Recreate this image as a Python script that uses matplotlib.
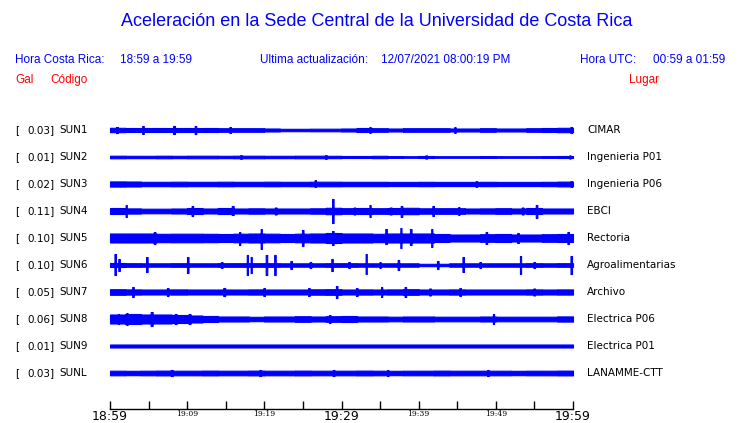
import numpy as np
import matplotlib
matplotlib.use("Agg")
import matplotlib.pyplot as plt
from matplotlib.transforms import blended_transform_factory

# ---------------- data ----------------
codes = ["SUN1", "SUN2", "SUN3", "SUN4", "SUN5", "SUN6", "SUN7", "SUN8", "SUN9", "SUNL"]
peak_gal = ["0.03", "0.01", "0.02", "0.11", "0.10", "0.10", "0.05", "0.06", "0.01", "0.03"]
places = ["CIMAR", "Ingenieria P01", "Ingenieria P06", "EBCI", "Rectoria",
          "Agroalimentarias", "Archivo", "Electrica P06", "Electrica P01", "LANAMME-CTT"]

tick_minutes = [0, 5, 10, 15, 20, 25, 30, 35, 40, 45, 50, 55, 60]
tick_labels = ["18:59", "", "19:09", "", "19:19", "", "19:29", "", "19:39", "", "19:49", "", "19:59"]
big_ticks = ["18:59", "19:29", "19:59"]

# background envelope half-width (pixels) per 2-minute block
env_sun1 = [2.2, 2, 2, 2, 2, 2, 2, 1.8, 1.8, 1.8, 1.5, 1.2, 1.2, 1.3, 1.3, 1.5, 2, 1.8, 1.5, 1.8,
            1.8, 1.8, 1.5, 1.5, 1.8, 1.5, 1.5, 1.8, 2, 2.2]
env_sun2 = [1.3, 1.2, 1.2, 1.3, 1.2, 1.3, 1.3, 1.2, 1.3, 1.3, 1.2, 1.2, 1.3, 1.3, 1.2, 1.0, 1.0, 1.2,
            0.9, 0.8, 1.0, 0.8, 0.8, 0.8, 0.9, 0.8, 0.8, 0.8, 0.9, 1.0]
env_sun3 = [2.6, 2.5, 2.2, 2.2, 2.3, 2.2, 2.2, 2.3, 2.2, 2.2, 2.3, 2.2, 2.2, 2.3, 2.3, 2.2, 2.2, 2.2,
            2.1, 2.1, 2.2, 2.1, 2.1, 2.1, 2.2, 2.1, 2.1, 2.1, 2.2, 2.4]
env_sun4 = [3, 2.6, 2.3, 2.3, 2.5, 3, 2.5, 3, 2.5, 2.7, 2.5, 2.5, 2.5, 2.7, 3.2, 2.8, 3, 2.8, 3, 3.2,
            2.7, 2.8, 2.8, 2.5, 2.6, 2.8, 2.5, 3, 2.5, 2.5]
env_sun5 = [4.5, 4.5, 4.5, 4.2, 4.3, 4.3, 4.2, 4, 4.3, 4.5, 4.3, 4, 4.3, 4.5, 5, 4.5, 4.5, 4.2, 4.5, 4.5,
            4.5, 4, 3.5, 3.5, 3.8, 4, 3.5, 3.5, 3.8, 4]
env_sun6 = [2, 1.8, 1.7, 1.7, 1.8, 1.7, 1.7, 1.8, 1.8, 1.8, 1.8, 1.7, 1.7, 1.7, 1.8, 1.8, 1.7, 1.7,
            1.7, 1.7, 1.2, 1.2, 1.7, 1.7, 1.7, 1.7, 1.7, 1.8, 1.7, 1.8]
env_sun7 = [2.8, 2.6, 2.5, 2.5, 2.6, 2.5, 2.5, 2.5, 2.5, 2.6, 2.5, 2.5, 2.5, 2.7, 2.8, 2.5, 2.6, 2.5,
            2.6, 2.8, 2.5, 2.5, 2.6, 2.5, 2.5, 2.5, 2.5, 2.6, 2.5, 2.6]
env_sun8 = [4.5, 5, 4.5, 4.5, 4, 3.5, 3, 2.5, 2.5, 2.2, 2.5, 2.5, 2.8, 2.5, 2.8, 3, 2.5, 2.5, 2.3, 2.5,
            2.5, 2.3, 2.3, 2.3, 2.5, 2.3, 2.3, 2.3, 2.3, 2.6]
env_sun9 = [1.5] * 30
env_sunl = [2.3, 2.2, 2.3, 2.4, 2.3, 2.3, 2.4, 2.3, 2.3, 2.4, 2.3, 2.3, 2.4, 2.3, 2.3, 2.3, 2.4, 2.3,
            2.2, 2.3, 2.3, 2.4, 2.3, 2.3, 2.3, 2.3, 2.2, 2.3, 2.3, 2.4]

# bursts: (minute, upward half-height px, downward half-height px)
ev_sun1 = [(0.9, 3, 3), (4.3, 4, 4), (8.3, 4, 4), (11.1, 4, 4), (15.6, 3, 3), (33.7, 3, 3),
           (44.7, 3, 3), (59.8, 3, 3)]
ev_sun2 = [(17.0, 1.8, 1.8), (28.0, 1.8, 1.8), (41.0, 1.6, 1.6), (59.6, 1.6, 1.6)]
ev_sun3 = [(26.6, 4, 3), (47.5, 2.8, 2.8), (59.8, 2.8, 2.8)]
ev_sun4 = [(2.1, 6, 6), (10.7, 5, 5), (15.9, 5, 4), (21.5, 3.5, 3.5), (28.9, 12, 12), (31.7, 3.5, 3.5),
           (33.7, 6, 6), (36.4, 3.5, 3.5), (37.8, 5, 6), (41.9, 5, 5), (45.2, 4, 4), (53.5, 3.5, 3.5),
           (55.3, 6, 7)]
ev_sun5 = [(5.8, 6, 6), (16.8, 6, 7), (19.6, 9, 11), (25.0, 8, 8), (28.9, 7, 7), (35.8, 9, 6),
           (37.7, 10, 10), (39.0, 9, 7), (41.7, 9, 9), (48.8, 6, 6), (52.9, 5, 5), (59.4, 6, 6)]
ev_sun6 = [(0.7, 11, 10), (1.2, 6, 6), (4.8, 8, 7), (10.1, 8, 8), (14.5, 3, 3), (17.8, 10, 10),
           (18.3, 8, 8), (20.3, 10, 10), (21.4, 10, 10), (23.5, 4, 4), (26.0, 3, 3), (28.8, 6, 6),
           (31.0, 3, 3), (33.2, 11, 9), (35.0, 3, 3), (37.4, 5, 5), (42.5, 4, 4), (45.8, 8, 7),
           (48.0, 3, 3), (53.2, 9, 9), (55.0, 3, 3), (59.8, 9, 9)]
ev_sun7 = [(3.0, 5, 5), (7.5, 4, 4), (14.8, 4, 4), (20.0, 4, 4), (25.8, 4, 4), (29.4, 6, 6),
           (32.0, 4, 4), (35.2, 5, 5), (38.3, 5, 5), (41.5, 3.5, 3.5), (45.4, 4, 4), (55.0, 3.5, 3.5)]
ev_sun8 = [(1.1, 5, 5), (2.2, 6, 6), (5.4, 7, 7), (8.5, 5, 5), (10.3, 5, 5), (28.5, 4, 4), (49.7, 5, 5)]
ev_sun9 = []
ev_sunl = [(8.0, 3, 3), (19.5, 3, 3), (29.0, 3, 3), (36.0, 3, 3), (49.0, 3, 3)]

envelopes = [env_sun1, env_sun2, env_sun3, env_sun4, env_sun5, env_sun6, env_sun7, env_sun8,
             env_sun9, env_sunl]
events = [ev_sun1, ev_sun2, ev_sun3, ev_sun4, ev_sun5, ev_sun6, ev_sun7, ev_sun8, ev_sun9, ev_sunl]

# ---------------- figure ----------------
W, H = 740, 423
fig = plt.figure(figsize=(W / 100, H / 100), dpi=100)
BLUE = "#0000ff"
RED = "#ff0000"

def fx(px):
    return px / W

def fy(py):
    return 1 - py / H

PX_PER_TRACE = 27.0
top_px, bot_px = 116, 409
ax = fig.add_axes([fx(110), fy(bot_px), (573 - 110) / W, (bot_px - top_px) / H])
ax.set_xlim(0, 60)
ax.set_ylim((bot_px - 130) / PX_PER_TRACE, (top_px - 130) / PX_PER_TRACE)
for s in ["top", "left", "right"]:
    ax.spines[s].set_visible(False)
ax.spines["bottom"].set_linewidth(1.0)
ax.set_yticks([])

t = np.linspace(0, 60, 1201)
for i, (env, evs) in enumerate(zip(envelopes, events)):
    base = np.repeat(np.array(env, dtype=float), 40)
    base = np.append(base, env[-1])
    up = base.copy()
    dn = base.copy()
    for m, u, d in evs:
        sel = np.abs(t - m) < 0.1
        up[sel] = np.maximum(up[sel], u)
        dn[sel] = np.maximum(dn[sel], d)
    ax.fill_between(t, i - up / PX_PER_TRACE, i + dn / PX_PER_TRACE, step="mid",
                    facecolor=BLUE, edgecolor=BLUE, linewidth=0.8, clip_on=False)

ax.set_xticks(tick_minutes)
ax.set_xticklabels(tick_labels)
ax.tick_params(axis="x", direction="in", length=6, width=1, pad=0.5)
for lab in ax.get_xticklabels():
    if lab.get_text() in big_ticks:
        lab.set_fontsize(9)
        lab.set_family("DejaVu Sans")
    else:
        lab.set_fontsize(5.5)
        lab.set_family("DejaVu Serif")

# trace labels
tr = blended_transform_factory(fig.transFigure, ax.transData)
for i in range(len(codes)):
    ax.text(fx(15), i, "[", transform=tr, fontsize=7.5, va="center", ha="left", family="DejaVu Sans")
    ax.text(fx(27), i, peak_gal[i] + "]", transform=tr, fontsize=7.5, va="center", ha="left",
            family="DejaVu Sans")
    ax.text(fx(59), i, codes[i], transform=tr, fontsize=7.5, va="center", ha="left", family="DejaVu Sans")
    ax.text(fx(587), i, places[i], transform=tr, fontsize=7.5, va="center", ha="left", family="DejaVu Sans")

# header
fig.text(fx(377), fy(22), "Aceleración en la Sede Central de la Universidad de Costa Rica",
         ha="center", va="center", color=BLUE, fontsize=13, family="Liberation Sans")
hdr = dict(va="center", color=BLUE, fontsize=8.5, family="Liberation Sans")
fig.text(fx(15), fy(60), "Hora Costa Rica:", ha="left", **hdr)
fig.text(fx(120), fy(60), "18:59 a 19:59", ha="left", **hdr)
fig.text(fx(260), fy(60), "Ultima actualización:", ha="left", **hdr)
fig.text(fx(381), fy(60), "12/07/2021 08:00:19 PM", ha="left", **hdr)
fig.text(fx(580), fy(60), "Hora UTC:", ha="left", **hdr)
fig.text(fx(725), fy(60), "00:59 a 01:59", ha="right", **hdr)
red = dict(va="center", color=RED, fontsize=8.5, family="Liberation Sans")
fig.text(fx(15), fy(80), "Gal", ha="left", **red)
fig.text(fx(50), fy(80), "Código", ha="left", **red)
fig.text(fx(629), fy(80), "Lugar", ha="left", **red)

fig.savefig("out.png", dpi=100)
